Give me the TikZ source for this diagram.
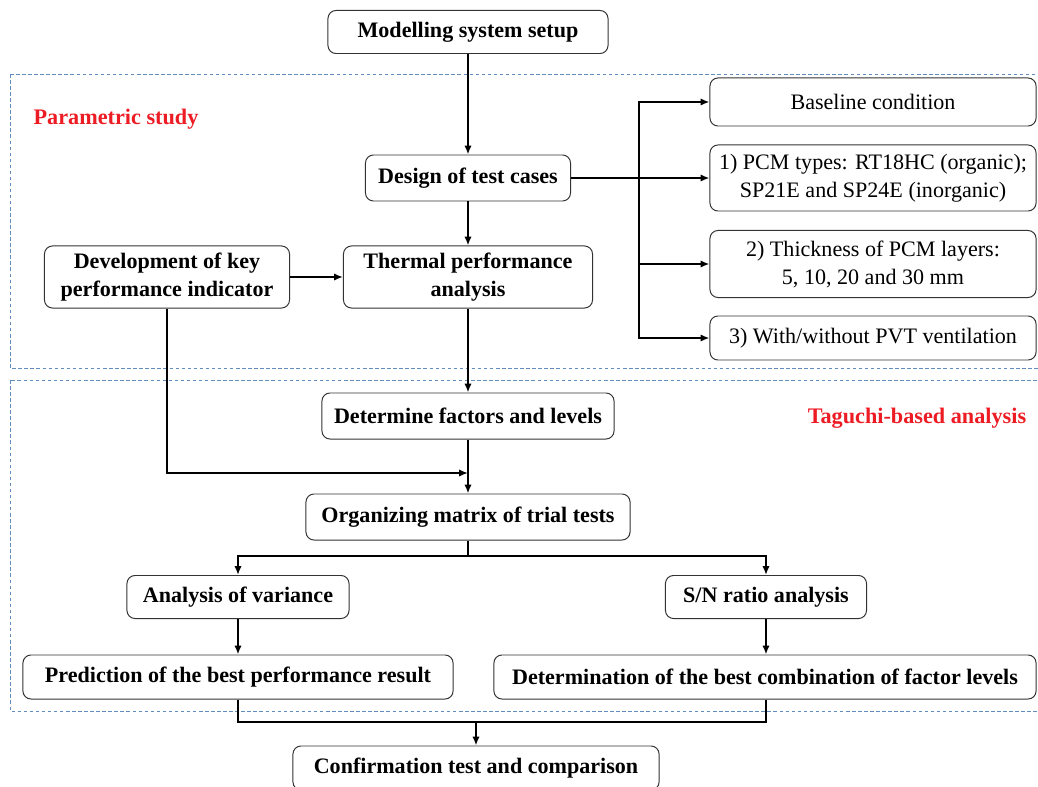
\documentclass[tikz,border=0pt]{standalone}
\usepackage{fontspec}
\setmainfont{Liberation Serif}
\usetikzlibrary{arrows.meta}
\definecolor{tagred}{RGB}{237,28,36}
\definecolor{dashblue}{RGB}{96,140,190}

\begin{document}
\begin{tikzpicture}[x=0.025cm, y=-0.025cm,
    box/.style={rectangle, rounded corners=0.2cm, draw=black!80, line width=0.7pt, fill=white,
        font=\fontsize{15.7}{20}\selectfont\bfseries, align=center, inner sep=2pt},
    optbox/.style={box, font=\fontsize{15.7}{20}\selectfont, minimum width=8.15cm},
    arrow/.style={line width=1.6pt, -{Latex[length=2.2mm,width=1.8mm]}},
    line/.style={line width=1.6pt},
    dashbox/.style={draw=dashblue, line width=0.6pt, dash pattern=on 2.5pt off 1.8pt},
    tag/.style={text=tagred, font=\fontsize{15.8}{18}\selectfont\bfseries}]
    \useasboundingbox (0,0) rectangle (1038,787);

    % Draw regions
    \draw[dashbox] (10,74) rectangle (1045,368);
    \draw[dashbox] (10,380) rectangle (1045,711);
    \node[tag] (param) at (116,119) {Parametric study};
    \node[tag] (taguchi) at (917,418) {Taguchi-based analysis};

    % Draw nodes
    \node[box, minimum width=7cm, minimum height=1.075cm] (setup) at (468,32) {Modelling system setup};
    \node[box, minimum width=5.125cm, minimum height=1.15cm] (design) at (468,178) {Design of test cases};
    \node[box, minimum width=6.125cm, minimum height=1.55cm] (kpi) at (167,277) {Development of key\\performance indicator};
    \node[box, minimum width=6.225cm, minimum height=1.55cm] (thermal) at (468,277) {Thermal performance\\analysis};
    \node[optbox, minimum height=1.2cm] (base) at (873,102) {Baseline condition};
    \node[optbox, minimum height=1.65cm] (pcm) at (873,178) {1) PCM types: RT18HC (organic);\\SP21E and SP24E (inorganic)};
    \node[optbox, minimum height=1.675cm] (thick) at (873,264) {2) Thickness of PCM layers:\\5, 10, 20 and 30 mm};
    \node[optbox, minimum height=1.1cm] (vent) at (873,338) {3) With/without PVT ventilation};
    \node[box, minimum width=7.3cm, minimum height=1.15cm] (factors) at (468,416) {Determine factors and levels};
    \node[box, minimum width=8.1cm, minimum height=1.15cm] (matrix) at (468,517) {Organizing matrix of trial tests};
    \node[box, minimum width=5.55cm, minimum height=1.075cm] (anova) at (238,597) {Analysis of variance};
    \node[box, minimum width=5.025cm, minimum height=1.075cm] (snr) at (766,597) {S/N ratio analysis};
    \node[box, minimum width=10.75cm, minimum height=1.1cm] (predict) at (238,677) {Prediction of the best performance result};
    \node[box, minimum width=13.55cm, minimum height=1.1cm] (best) at (765,677) {Determination of the best combination of factor levels};
    \node[box, minimum width=9.15cm, minimum height=1.1cm] (confirm) at (476,768) {Confirmation test and comparison};

    % Junction points
    \coordinate (split) at (639,178);
    \coordinate (merge) at (468,473);
    \coordinate (fork) at (468,556);
    \coordinate (join) at (476,722);

    % Draw connections
    \draw[arrow] (setup) -- (design);
    \draw[arrow] (design) -- (thermal);
    \draw[arrow] (design) -- (pcm);
    \draw[arrow] (split) |- (base);
    \draw[arrow] (split) |- (thick);
    \draw[arrow] (split) |- (vent);
    \draw[arrow] (kpi) -- (thermal);
    \draw[arrow] (thermal) -- (factors);
    \draw[arrow] (kpi) |- (merge);
    \draw[arrow] (factors) -- (matrix);
    \draw[line] (matrix) -- (fork);
    \draw[arrow] (fork) -| (anova);
    \draw[arrow] (fork) -| (snr);
    \draw[arrow] (anova) -- (predict);
    \draw[arrow] (snr) -- (snr |- best.north);
    \draw[line] (predict) |- (join);
    \draw[line] (best.south -| snr) |- (join);
    \draw[arrow] (join) -- (confirm);
\end{tikzpicture}
\end{document}
